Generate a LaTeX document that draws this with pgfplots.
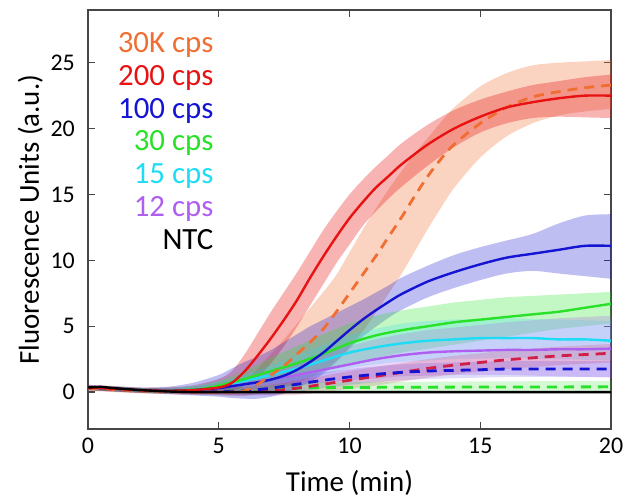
\documentclass[border=0pt]{standalone}
\usepackage{pgfplots}
\pgfplotsset{compat=1.18}
\usepackage{pgfplotstable}
\usepgfplotslibrary{fillbetween}
\usepackage{fontspec}
\setmainfont{Carlito}

\definecolor{orangeC}{RGB}{240,110,50}
\definecolor{redC}{RGB}{232,18,18}
\definecolor{blueC}{RGB}{20,20,210}
\definecolor{greenC}{RGB}{40,225,40}
\definecolor{cyanC}{RGB}{30,220,245}
\definecolor{purpleC}{RGB}{175,95,240}
\definecolor{crimsonC}{RGB}{210,30,70}
\definecolor{frameC}{RGB}{70,70,70}

% 30K cps
\pgfplotstableread{
t m lo hi
0 0.30 0.10 0.50
1 0.20 0.00 0.40
2 0.10 -0.10 0.30
3 0.05 -0.15 0.25
4 0.00 -0.20 0.25
5 0.00 -0.25 0.35
5.5 0.00 -0.30 0.50
6 0.10 -0.30 0.80
6.5 0.60 -0.10 1.80
7 1.30 0.10 2.90
7.5 2.00 0.40 4.00
8 2.90 0.70 5.20
8.5 3.80 1.10 6.40
9 4.80 1.60 7.60
9.5 6.10 2.40 8.90
10 7.50 3.40 10.60
10.5 8.90 4.60 12.30
11 10.30 6.00 13.90
11.5 11.80 7.50 15.40
12 13.30 9.00 16.80
12.5 14.90 10.70 18.10
13 16.40 12.40 19.30
13.5 17.70 14.00 20.50
14 18.80 15.50 21.60
15 20.40 17.80 23.20
16 21.60 19.40 24.20
17 22.40 20.40 24.80
18 22.80 21.00 25.00
19 23.10 21.30 25.10
20 23.30 21.50 25.20
}\Torange

% 200 cps
\pgfplotstableread{
t m lo hi
0 0.35 0.15 0.55
1 0.25 0.05 0.45
2 0.15 -0.05 0.35
3 0.10 -0.10 0.35
4 0.15 -0.15 0.50
5 0.35 -0.10 1.00
5.5 0.70 0.10 1.60
6 1.60 0.50 2.90
6.5 2.80 1.10 4.50
7 4.10 2.20 6.10
7.5 5.50 3.50 7.60
8 7.00 5.00 9.10
8.5 8.70 6.60 10.70
9 10.30 8.20 12.30
9.5 11.80 9.80 13.70
10 13.20 11.20 15.00
10.5 14.40 12.60 16.10
11 15.50 13.70 17.10
11.5 16.40 14.70 18.00
12 17.30 15.60 18.90
13 18.80 17.20 20.30
14 20.00 18.60 21.40
15 20.90 19.70 22.20
16 21.60 20.40 22.80
17 22.00 20.80 23.30
18 22.30 20.90 23.60
19 22.50 20.85 23.90
20 22.50 20.80 24.10
}\Tred

% 100 cps
\pgfplotstableread{
t m lo hi
0 0.35 0.15 0.55
1 0.25 0.05 0.45
2 0.15 -0.05 0.35
3 0.10 -0.15 0.40
4 0.15 -0.25 0.70
5 0.30 -0.35 1.30
5.5 0.45 -0.45 1.80
6 0.60 -0.50 2.30
6.5 0.75 -0.50 2.70
7 0.95 -0.35 3.20
7.5 1.25 -0.10 3.80
8 1.70 0.30 4.40
8.5 2.30 0.80 5.00
9 3.00 1.40 5.50
9.5 3.85 2.30 6.00
10 4.70 3.30 6.50
10.5 5.50 4.20 7.00
11 6.20 4.95 7.55
11.5 6.85 5.65 8.10
12 7.45 6.25 8.70
13 8.40 7.20 9.60
14 9.10 7.90 10.40
15 9.70 8.50 11.00
16 10.20 9.00 11.50
17 10.50 9.20 12.00
18 10.80 9.00 12.80
19 11.10 8.80 13.40
20 11.10 8.60 13.50
}\Tblue

% 30 cps
\pgfplotstableread{
t m lo hi
0 0.35 0.20 0.50
1 0.25 0.10 0.40
2 0.15 0.00 0.30
3 0.10 -0.05 0.30
4 0.20 0.00 0.45
4.5 0.30 0.10 0.60
5 0.50 0.20 0.85
5.5 0.75 0.35 1.20
6 1.00 0.50 1.60
7 1.60 0.80 2.60
8 2.20 1.20 3.50
9 2.90 1.60 4.40
10 3.70 2.10 5.20
11 4.30 2.60 5.80
12 4.70 3.00 6.20
13 5.00 3.30 6.50
14 5.30 3.60 6.80
15 5.50 3.90 7.00
16 5.70 4.20 7.20
17 5.90 4.50 7.30
18 6.10 4.80 7.40
19 6.40 5.00 7.50
20 6.70 5.20 7.60
}\Tgreen

% 15 cps
\pgfplotstableread{
t m lo hi
0 0.35 0.20 0.50
1 0.25 0.10 0.40
2 0.15 0.00 0.30
3 0.10 -0.05 0.30
4 0.20 0.00 0.45
4.5 0.30 0.05 0.60
5 0.45 0.15 0.80
5.5 0.65 0.25 1.05
6 0.85 0.40 1.30
7 1.30 0.65 2.05
8 1.80 0.90 2.80
9 2.40 1.35 3.60
10 3.00 1.80 4.30
11 3.40 2.10 4.80
12 3.70 2.30 5.20
13 3.90 2.40 5.40
14 4.00 2.50 5.50
15 4.10 2.55 5.55
16 4.10 2.60 5.60
17 4.10 2.55 5.55
18 4.00 2.50 5.50
19 4.00 2.45 5.45
20 3.90 2.40 5.40
}\Tcyan

% 12 cps
\pgfplotstableread{
t m lo hi
0 0.35 0.20 0.50
1 0.25 0.10 0.40
2 0.15 0.00 0.30
3 0.10 -0.05 0.30
4 0.15 -0.05 0.40
5 0.30 0.05 0.65
6 0.60 0.20 1.00
7 0.95 0.35 1.60
8 1.30 0.50 2.20
9 1.70 0.70 2.90
10 2.10 0.90 3.50
11 2.50 1.05 4.00
12 2.80 1.20 4.40
13 3.00 1.25 4.70
14 3.10 1.30 4.90
15 3.15 1.30 5.10
16 3.20 1.30 5.30
17 3.20 1.25 5.45
18 3.25 1.20 5.60
19 3.25 1.15 5.70
20 3.30 1.10 5.80
}\Tpurple

% unlabeled dashed series
\pgfplotstableread{
t m lo hi
0 0.30 0.15 0.45
2 0.12 -0.05 0.30
4 0.03 -0.15 0.25
6 0.05 -0.20 0.40
7 0.10 -0.25 0.55
8 0.30 -0.20 0.90
9 0.60 0.00 1.25
10 0.90 0.25 1.60
11 1.20 0.50 1.90
12 1.50 0.80 2.20
13 1.80 1.10 2.50
14 2.05 1.35 2.75
15 2.25 1.55 2.95
16 2.45 1.75 3.15
17 2.60 1.90 3.30
18 2.75 2.05 3.45
19 2.85 2.15 3.55
20 2.95 2.25 3.65
}\Tcrimson

\pgfplotstableread{
t m lo hi
0 0.30 0.15 0.45
2 0.12 -0.05 0.30
4 0.03 -0.15 0.25
5 0.05 -0.20 0.35
6 0.10 -0.25 0.50
7 0.30 -0.20 0.85
8 0.60 0.00 1.20
9 0.90 0.30 1.50
10 1.15 0.55 1.75
11 1.35 0.75 1.95
12 1.50 0.90 2.10
13 1.60 1.00 2.20
14 1.65 1.05 2.25
15 1.70 1.10 2.30
16 1.75 1.15 2.35
17 1.75 1.15 2.35
18 1.75 1.15 2.35
19 1.75 1.15 2.35
20 1.75 1.15 2.35
}\Tbluedash

\pgfplotstableread{
t m lo hi
0 0.30 0.15 0.45
3 0.05 -0.10 0.25
6 0.10 -0.10 0.40
8 0.30 0.00 0.70
10 0.35 0.00 0.75
14 0.38 0.00 0.80
20 0.40 0.00 0.85
}\Tgreendash

\pgfplotstableread{
t m
0 0.35
0.5 0.40
1 0.30
2 0.15
3 0.05
4 0.00
20 0.00
}\Tblack

\begin{document}
\begin{tikzpicture}
\begin{axis}[
  at={(0,0)}, anchor=south west,
  scale only axis, width=523bp, height=419bp,
  xmin=0, xmax=20, ymin=-2.8, ymax=29,
  xtick={0,5,10,15,20}, ytick={0,5,10,15,20,25},
  tick align=inside, major tick length=7bp,
  axis line style={line width=1.8bp, frameC},
  tick style={line width=1.3bp, frameC},
  /pgf/number format/assume math mode=true,
  ticklabel style={font=\fontsize{24}{28}\selectfont},
  xticklabel style={anchor=base, yshift=-24bp, inner sep=0pt},
  yticklabel style={anchor=east, inner sep=0pt, xshift=-13bp},
  xlabel={Time (min)}, ylabel={Fluorescence Units (a.u.)},
  label style={font=\fontsize{29}{32}\selectfont},
  xlabel style={at={(axis description cs:0.5,-0.150)}, anchor=base, inner sep=0pt},
  ylabel style={at={(axis description cs:-0.094,0.5)}, anchor=base, inner sep=0pt},
]
% bands
\addplot[draw=none, smooth, name path=oU] table[x=t,y=hi]{\Torange};
\addplot[draw=none, smooth, name path=oL] table[x=t,y=lo]{\Torange};
\addplot[fill=orangeC, fill opacity=0.3, draw=none] fill between[of=oU and oL];
\addplot[draw=none, smooth, name path=rU] table[x=t,y=hi]{\Tred};
\addplot[draw=none, smooth, name path=rL] table[x=t,y=lo]{\Tred};
\addplot[fill=redC, fill opacity=0.32, draw=none] fill between[of=rU and rL];
\addplot[draw=none, smooth, name path=bU] table[x=t,y=hi]{\Tblue};
\addplot[draw=none, smooth, name path=bL] table[x=t,y=lo]{\Tblue};
\addplot[fill=blueC, fill opacity=0.28, draw=none] fill between[of=bU and bL];
\addplot[draw=none, smooth, name path=gU] table[x=t,y=hi]{\Tgreen};
\addplot[draw=none, smooth, name path=gL] table[x=t,y=lo]{\Tgreen};
\addplot[fill=greenC, fill opacity=0.28, draw=none] fill between[of=gU and gL];
\addplot[draw=none, smooth, name path=cU] table[x=t,y=hi]{\Tcyan};
\addplot[draw=none, smooth, name path=cL] table[x=t,y=lo]{\Tcyan};
\addplot[fill=cyanC, fill opacity=0.22, draw=none] fill between[of=cU and cL];
\addplot[draw=none, smooth, name path=pU] table[x=t,y=hi]{\Tpurple};
\addplot[draw=none, smooth, name path=pL] table[x=t,y=lo]{\Tpurple};
\addplot[fill=purpleC, fill opacity=0.25, draw=none] fill between[of=pU and pL];
\addplot[draw=none, smooth, name path=kU] table[x=t,y=hi]{\Tcrimson};
\addplot[draw=none, smooth, name path=kL] table[x=t,y=lo]{\Tcrimson};
\addplot[fill=crimsonC, fill opacity=0.18, draw=none] fill between[of=kU and kL];
\addplot[draw=none, smooth, name path=dU] table[x=t,y=hi]{\Tbluedash};
\addplot[draw=none, smooth, name path=dL] table[x=t,y=lo]{\Tbluedash};
\addplot[fill=blueC, fill opacity=0.15, draw=none] fill between[of=dU and dL];
\addplot[draw=none, smooth, name path=eU] table[x=t,y=hi]{\Tgreendash};
\addplot[draw=none, smooth, name path=eL] table[x=t,y=lo]{\Tgreendash};
\addplot[fill=greenC, fill opacity=0.2, draw=none] fill between[of=eU and eL];
% lines
\addplot[greenC, line width=2.8bp, dash pattern=on 10bp off 7bp, smooth] table[x=t,y=m]{\Tgreendash};
\addplot[crimsonC, line width=2.8bp, dash pattern=on 10bp off 7bp, smooth] table[x=t,y=m]{\Tcrimson};
\addplot[blueC, line width=2.8bp, dash pattern=on 10bp off 7bp, smooth] table[x=t,y=m]{\Tbluedash};
\addplot[purpleC, line width=2.4bp, smooth] table[x=t,y=m]{\Tpurple};
\addplot[cyanC, line width=2.4bp, smooth] table[x=t,y=m]{\Tcyan};
\addplot[greenC, line width=2.4bp, smooth] table[x=t,y=m]{\Tgreen};
\addplot[blueC, line width=2.4bp, smooth] table[x=t,y=m]{\Tblue};
\addplot[orangeC, line width=2.8bp, dash pattern=on 10bp off 7bp, smooth] table[x=t,y=m]{\Torange};
\addplot[redC, line width=2.4bp, smooth] table[x=t,y=m]{\Tred};
\addplot[black, line width=2.4bp] table[x=t,y=m]{\Tblack};
% legend text
\begin{scope}[every node/.style={anchor=base east, inner sep=0pt, font=\fontsize{31}{31}\selectfont}]
\node[text=orangeC] at (axis cs:4.8,25.8) {30K cps};
\node[text=redC] at (axis cs:4.8,23.3) {200 cps};
\node[text=blueC] at (axis cs:4.8,20.8) {100 cps};
\node[text=greenC] at (axis cs:4.8,18.3) {30 cps};
\node[text=cyanC] at (axis cs:4.8,15.8) {15 cps};
\node[text=purpleC] at (axis cs:4.8,13.3) {12 cps};
\node[text=black] at (axis cs:4.8,10.8) {NTC};
\end{scope}
\end{axis}
\path (-88bp,-73bp) rectangle (537bp,429bp);
\end{tikzpicture}
\end{document}
